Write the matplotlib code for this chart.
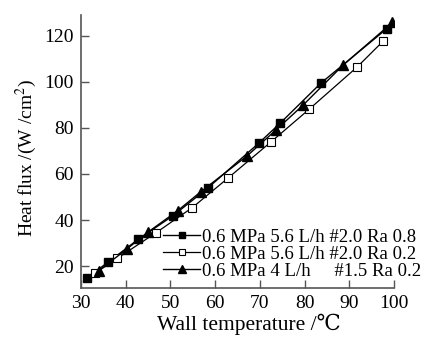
import numpy as np
import matplotlib.pyplot as plt

# filled squares: 0.6 MPa 5.6 L/h #2.0 Ra 0.8
t_a = [31.3, 36.0, 42.8, 50.6, 58.3, 69.7, 74.5, 83.6, 98.3]
q_a = [14.8, 21.6, 31.6, 41.9, 53.8, 73.3, 82.0, 99.4, 123.0]

# open squares: 0.6 MPa 5.6 L/h #2.0 Ra 0.2
t_b = [33.1, 38.1, 46.8, 54.9, 62.8, 72.4, 81.0, 91.7, 97.6]
q_b = [16.8, 23.3, 34.5, 45.4, 58.1, 73.8, 88.1, 106.4, 117.8]

# triangles: 0.6 MPa 4 L/h #1.5 Ra 0.2
t_c = [34.0, 40.2, 45.1, 51.6, 56.8, 67.1, 73.6, 79.7, 88.5, 99.6]
q_c = [18.0, 27.3, 34.9, 44.0, 52.3, 67.8, 79.1, 90.0, 107.1, 125.8]

labels = ['0.6 MPa 5.6 L/h #2.0 Ra 0.8',
          '0.6 MPa 5.6 L/h #2.0 Ra 0.2',
          '0.6 MPa 4 L/h     #1.5 Ra 0.2']

xticks = [30, 40, 50, 60, 70, 80, 90, 100]
yticks = [20, 40, 60, 80, 100, 120]

plt.rcParams['font.family'] = ['Liberation Serif', 'DejaVu Serif']
plt.rcParams['mathtext.fontset'] = 'stix'

fig = plt.figure(figsize=(4.28, 3.42), dpi=100)
ax = fig.add_axes([0.189, 0.158, 0.732, 0.798])

ax.plot(t_a, q_a, '-', color='black', lw=1.0, marker='s', ms=6,
        mfc='black', mec='black', label=labels[0])
ax.plot(t_b, q_b, '-', color='black', lw=0.9, marker='s', ms=6,
        mfc='white', mec='black', mew=0.8, label=labels[1])
ax.plot(t_c, q_c, '-', color='black', lw=1.0, marker='^', ms=6.5,
        mfc='black', mec='black', label=labels[2])

ax.set_xlim(30, 100)
ax.set_ylim(10.5, 129)
ax.set_xticks(xticks)
ax.set_yticks(yticks)
ax.tick_params(direction='in', length=6, width=1.0, color='#555555',
               labelsize=14, pad=5)

for side in ['top', 'right']:
    ax.spines[side].set_visible(False)
for side in ['left', 'bottom']:
    ax.spines[side].set_color('#555555')
    ax.spines[side].set_linewidth(1.2)

ax.set_xlabel('Wall temperature /\u2103', fontsize=15.5, labelpad=1, x=0.535)
ax.set_ylabel('Heat flux /(W /cm$^2$)', fontsize=14, labelpad=4, y=0.478)

ax.legend(loc='lower left', bbox_to_anchor=(0.262, 0.03), frameon=False,
          fontsize=13.5, handlelength=2.0, handletextpad=0.1,
          labelspacing=0.0, borderaxespad=0.0, borderpad=0.0,
          markerscale=0.8)

fig.savefig('out.png', dpi=100)
